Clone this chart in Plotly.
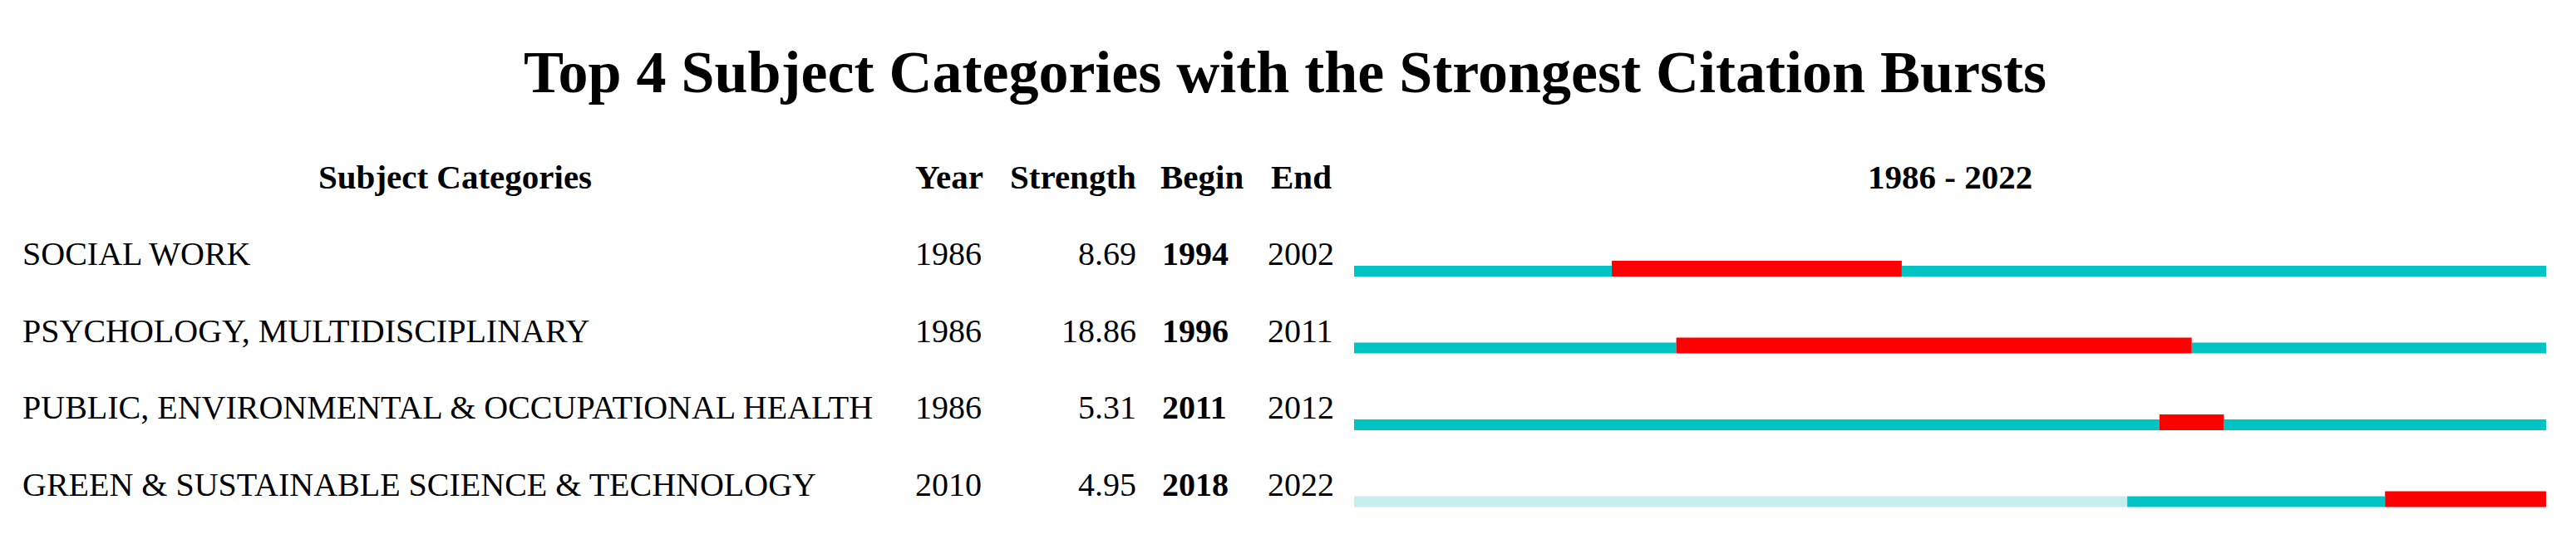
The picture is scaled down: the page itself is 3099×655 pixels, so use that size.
import plotly.graph_objects as go

# ---- data ----
categories = [
    "SOCIAL WORK",
    "PSYCHOLOGY, MULTIDISCIPLINARY",
    "PUBLIC, ENVIRONMENTAL & OCCUPATIONAL HEALTH",
    "GREEN & SUSTAINABLE SCIENCE & TECHNOLOGY",
]
first_year = [1986, 1986, 1986, 2010]
strength = [8.69, 18.86, 5.31, 4.95]
begin = [1994, 1996, 2011, 2018]
end = [2002, 2011, 2012, 2022]
span_start, span_end = 1986, 2022
title = "Top 4 Subject Categories with the Strongest Citation Bursts"

# ---- style ----
PAGE_OFF = 8                      # default body margin of the html page
W, H = 3099 - PAGE_OFF, 655 - PAGE_OFF
FONT = "Liberation Serif, Times New Roman, serif"
TEAL = "#00C4C4"
LIGHT = "#C6EEEE"
RED = "#FF0000"
ROW_PX0, ROW_STEP = 326.5, 92.5   # page pixel of first bar centre, spacing
TEAL_H, RED_H = 13, 19             # bar heights in pixels

def px_x(p):
    return (p - PAGE_OFF) / W

def px_y(p):
    return 1 - (p - PAGE_OFF) / H

n = len(categories)
rows = list(range(n))
teal_w = TEAL_H / ROW_STEP
red_w = RED_H / ROW_STEP

fig = go.Figure()

def add_seg(y, x0, x1, color, width, offset):
    keep = [(yy, a, b) for yy, a, b in zip(y, x0, x1) if b >= a]
    fig.add_trace(go.Bar(
        orientation="h",
        y=[k[0] for k in keep],
        x=[k[2] - k[1] + 1 for k in keep],
        base=[k[1] - 0.5 for k in keep],
        width=width, offset=offset,
        marker=dict(color=color, line=dict(width=0)),
        hoverinfo="skip", showlegend=False,
    ))

# not-yet-present period (light), present period (teal), burst (red)
add_seg(rows, [span_start] * n, [fy - 1 for fy in first_year], LIGHT, teal_w, -teal_w / 2)
add_seg(rows, first_year, [b - 1 for b in begin], TEAL, teal_w, -teal_w / 2)
add_seg(rows, [e + 1 for e in end], [span_end] * n, TEAL, teal_w, -teal_w / 2)
add_seg(rows, begin, end, RED, red_w, teal_w / 2 - red_w)

ann = []
def text(x, y, s, size, bold=False, xanchor="left", yref="paper", yshift=0):
    ann.append(dict(
        x=x, y=y, xref="paper", yref=yref, text=f"<b>{s}</b>" if bold else s,
        showarrow=False, xanchor=xanchor, yanchor="middle", yshift=yshift,
        font=dict(family=FONT, size=size, color="black"),
    ))

# title and headers
text(px_x(1546), px_y(87), title, 72, bold=True, xanchor="center")
HY = px_y(213)
text(px_x(547), HY, "Subject Categories", 41, bold=True, xanchor="center")
text(px_x(1099), HY, "Year", 41, bold=True)
text(px_x(1369), HY, "Strength", 41, bold=True, xanchor="right")
text(px_x(1394), HY, "Begin", 41, bold=True)
text(px_x(1527), HY, "End", 41, bold=True)
text(px_x(2346), HY, f"{span_start} - {span_end}", 41, bold=True, xanchor="center")

for i in rows:
    ys = 21
    text(px_x(25), i, categories[i], 40, yref="y", yshift=ys)
    text(px_x(1099), i, str(first_year[i]), 40, yref="y", yshift=ys)
    text(px_x(1369), i, f"{strength[i]:.2f}", 40, xanchor="right", yref="y", yshift=ys)
    text(px_x(1396), i, str(begin[i]), 40, bold=True, yref="y", yshift=ys)
    text(px_x(1523), i, str(end[i]), 40, yref="y", yshift=ys)

# y axis: row index -> page pixel
y_top = -(ROW_PX0 - PAGE_OFF) / ROW_STEP
y_bot = (H - (ROW_PX0 - PAGE_OFF)) / ROW_STEP

fig.update_layout(
    width=W, height=H,
    margin=dict(l=0, r=0, t=0, b=0),
    paper_bgcolor="white", plot_bgcolor="white",
    barmode="overlay",
    annotations=ann,
    xaxis=dict(domain=[px_x(1629), px_x(3063)],
               range=[span_start - 0.5, span_end + 0.5],
               visible=False, fixedrange=True),
    yaxis=dict(range=[y_bot, y_top], visible=False, fixedrange=True),
)

fig.write_html("out.html")
